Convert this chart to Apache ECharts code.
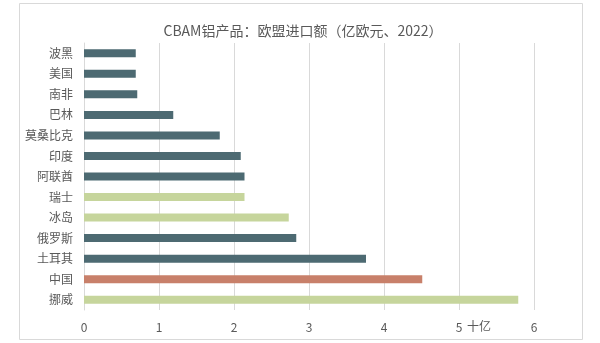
<!DOCTYPE html>
<html>
<head>
<meta charset="utf-8">
<script src="https://cdn.jsdelivr.net/npm/echarts@6/dist/echarts.min.js"></script>
<style>
html,body{margin:0;padding:0;background:#fff;}
#c{width:600px;height:343px;}
</style>
</head>
<body>
<div id="c"></div>
<script>
const titleText = 'CBAM铝产品：欧盟进口额（亿欧元、2022）';
const categories = ['波黑','美国','南非','巴林','莫桑比克','印度','阿联酋','瑞士','冰岛','俄罗斯','土耳其','中国','挪威'];
const values = [0.69,0.69,0.71,1.19,1.81,2.09,2.14,2.14,2.73,2.83,3.76,4.51,5.79];
const groups = ['other','other','other','other','other','other','other','efta','efta','other','other','china','efta'];
const groupColors = {other:'#4d6a72', efta:'#c6d59c', china:'#c8806a'};
const xTicks = [0,1,2,3,4,5,6];
const unitLabel = '十亿';

const font = '"Noto Sans CJK SC", "Microsoft YaHei", sans-serif';
const chart = echarts.init(document.getElementById('c'));
chart.setOption({
  animation:false,
  backgroundColor:'#fff',
  title:{text:titleText,left:298,top:19,textAlign:'center',
    textStyle:{fontFamily:font,fontSize:14,fontWeight:'normal',color:'#595959'}},
  grid:{left:84,right:66,top:43,bottom:33,containLabel:false},
  xAxis:{type:'value',min:xTicks[0],max:xTicks[xTicks.length-1],interval:1,
    axisLine:{show:false},axisTick:{show:false},
    axisLabel:{fontFamily:font,fontSize:12,color:'#595959',margin:11},
    splitLine:{show:true,lineStyle:{color:'#d9d9d9',width:1}}},
  yAxis:{type:'category',data:categories,inverse:true,
    axisLine:{show:true,lineStyle:{color:'#d9d9d9'}},axisTick:{show:false},
    axisLabel:{fontFamily:font,fontSize:12,color:'#595959',margin:11}},
  series:[{type:'bar',barWidth:8,
    data:values.map((v,i)=>({value:v,itemStyle:{color:groupColors[groups[i]]}}))}],
  graphic:[
    {type:'rect',shape:{x:19.5,y:3.5,width:563,height:336},style:{fill:'none',stroke:'#d9d9d9',lineWidth:1},silent:true},
    {type:'text',left:467,top:320,style:{text:unitLabel,font:'12px '+font,fill:'#595959'}}
  ]
});
</script>
</body>
</html>
